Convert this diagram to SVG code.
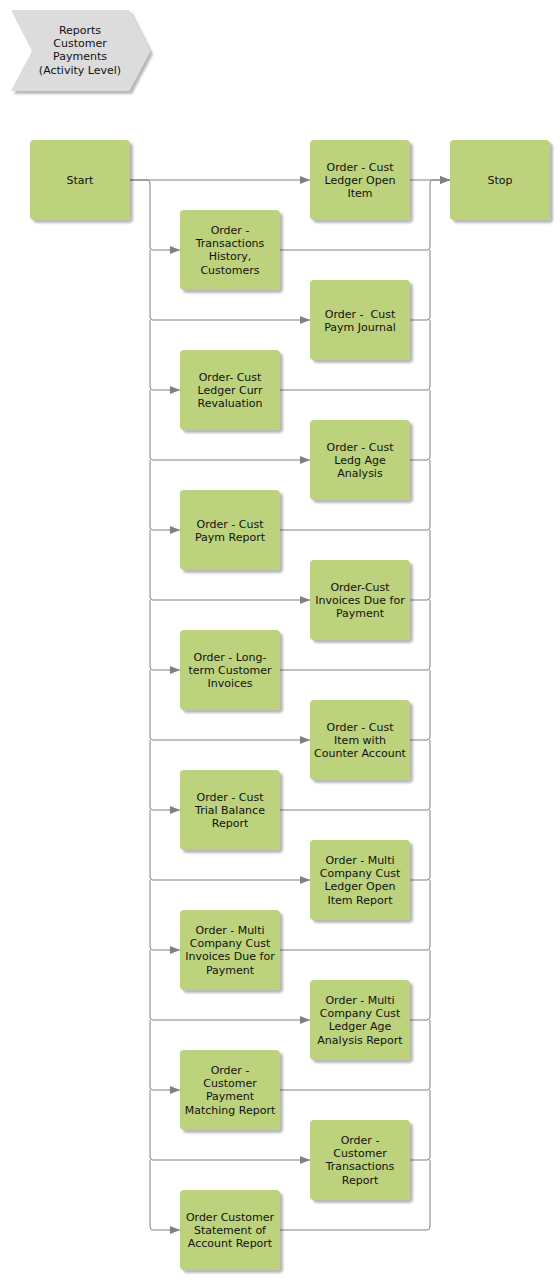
<svg xmlns="http://www.w3.org/2000/svg" width="560" height="1280" viewBox="0 0 560 1280">
<defs>
<filter id="sh" x="-10%" y="-10%" width="130%" height="130%">
<feDropShadow dx="3" dy="3" stdDeviation="1.2" flood-color="#000" flood-opacity="0.28"/>
</filter>
<marker id="ar" markerWidth="10" markerHeight="8" refX="10" refY="4" orient="auto" markerUnits="userSpaceOnUse">
<path d="M0,0 L10,4 L0,8 Z" fill="#808080"/>
</marker>
<style>
.n rect{fill:#bdd27b;filter:url(#sh)}
text{font-family:"DejaVu Sans",Verdana,sans-serif;font-size:11px;fill:#111;text-anchor:middle}
.c path{fill:none;stroke:#808080;stroke-width:1}
.a{marker-end:url(#ar)}
</style>
</defs>
<g id="header">
<path d="M11,10 H129 L150,51 L129,91 H11 L32,51 Z" fill="#dcdcdc" filter="url(#sh)"/>
<text x="80" y="34">Reports</text>
<text x="80" y="47">Customer</text>
<text x="80" y="60">Payments</text>
<text x="80" y="74">(Activity Level)</text>
</g>
<g id="connectors" class="c">
<path class="a" d="M130,180 H310"/>
<path class="a" d="M130,180 H147 Q150,180 150,183 V247 Q150,250 153,250 H180"/>
<path class="a" d="M150,250 V317 Q150,320 153,320 H310"/>
<path class="a" d="M150,320 V387 Q150,390 153,390 H180"/>
<path class="a" d="M150,390 V457 Q150,460 153,460 H310"/>
<path class="a" d="M150,460 V527 Q150,530 153,530 H180"/>
<path class="a" d="M150,530 V597 Q150,600 153,600 H310"/>
<path class="a" d="M150,600 V667 Q150,670 153,670 H180"/>
<path class="a" d="M150,670 V737 Q150,740 153,740 H310"/>
<path class="a" d="M150,740 V807 Q150,810 153,810 H180"/>
<path class="a" d="M150,810 V877 Q150,880 153,880 H310"/>
<path class="a" d="M150,880 V947 Q150,950 153,950 H180"/>
<path class="a" d="M150,950 V1017 Q150,1020 153,1020 H310"/>
<path class="a" d="M150,1020 V1087 Q150,1090 153,1090 H180"/>
<path class="a" d="M150,1090 V1157 Q150,1160 153,1160 H310"/>
<path class="a" d="M150,1160 V1227 Q150,1230 153,1230 H180"/>
<path class="a" d="M410,180 H450"/>
<path class="a" d="M280,250 H427 Q430,250 430,247 V183 Q430,180 433,180 H450"/>
<path d="M410,320 H427 Q430,320 430,317 V250"/>
<path d="M280,390 H427 Q430,390 430,387 V320"/>
<path d="M410,460 H427 Q430,460 430,457 V390"/>
<path d="M280,530 H427 Q430,530 430,527 V460"/>
<path d="M410,600 H427 Q430,600 430,597 V530"/>
<path d="M280,670 H427 Q430,670 430,667 V600"/>
<path d="M410,740 H427 Q430,740 430,737 V670"/>
<path d="M280,810 H427 Q430,810 430,807 V740"/>
<path d="M410,880 H427 Q430,880 430,877 V810"/>
<path d="M280,950 H427 Q430,950 430,947 V880"/>
<path d="M410,1020 H427 Q430,1020 430,1017 V950"/>
<path d="M280,1090 H427 Q430,1090 430,1087 V1020"/>
<path d="M410,1160 H427 Q430,1160 430,1157 V1090"/>
<path d="M280,1230 H427 Q430,1230 430,1227 V1160"/>
</g>
<g id="start" class="n"><rect x="30" y="140" width="100" height="80" rx="4"/><text x="80" y="184">Start</text></g>
<g id="stop" class="n"><rect x="450" y="140" width="100" height="80" rx="4"/><text x="500" y="184">Stop</text></g>
<g id="n0" class="n"><rect x="310" y="140" width="100" height="80" rx="4"/><text x="360" y="171">Order - Cust</text><text x="360" y="184">Ledger Open</text><text x="360" y="197">Item</text></g>
<g id="n1" class="n"><rect x="180" y="210" width="100" height="80" rx="4"/><text x="230" y="234">Order -</text><text x="230" y="247">Transactions</text><text x="230" y="260">History,</text><text x="230" y="274">Customers</text></g>
<g id="n2" class="n"><rect x="310" y="280" width="100" height="80" rx="4"/><text x="360" y="318" xml:space="preserve">Order -  Cust</text><text x="360" y="331">Paym Journal</text></g>
<g id="n3" class="n"><rect x="180" y="350" width="100" height="80" rx="4"/><text x="230" y="381">Order- Cust</text><text x="230" y="394">Ledger Curr</text><text x="230" y="407">Revaluation</text></g>
<g id="n4" class="n"><rect x="310" y="420" width="100" height="80" rx="4"/><text x="360" y="451">Order - Cust</text><text x="360" y="464">Ledg Age</text><text x="360" y="477">Analysis</text></g>
<g id="n5" class="n"><rect x="180" y="490" width="100" height="80" rx="4"/><text x="230" y="528">Order - Cust</text><text x="230" y="541">Paym Report</text></g>
<g id="n6" class="n"><rect x="310" y="560" width="100" height="80" rx="4"/><text x="360" y="591">Order-Cust</text><text x="360" y="604">Invoices Due for</text><text x="360" y="617">Payment</text></g>
<g id="n7" class="n"><rect x="180" y="630" width="100" height="80" rx="4"/><text x="230" y="661">Order - Long-</text><text x="230" y="674">term Customer</text><text x="230" y="687">Invoices</text></g>
<g id="n8" class="n"><rect x="310" y="700" width="100" height="80" rx="4"/><text x="360" y="731">Order - Cust</text><text x="360" y="744">Item with</text><text x="360" y="757">Counter Account</text></g>
<g id="n9" class="n"><rect x="180" y="770" width="100" height="80" rx="4"/><text x="230" y="801">Order - Cust</text><text x="230" y="814">Trial Balance</text><text x="230" y="827">Report</text></g>
<g id="n10" class="n"><rect x="310" y="840" width="100" height="80" rx="4"/><text x="360" y="864">Order - Multi</text><text x="360" y="877">Company Cust</text><text x="360" y="890">Ledger Open</text><text x="360" y="904">Item Report</text></g>
<g id="n11" class="n"><rect x="180" y="910" width="100" height="80" rx="4"/><text x="230" y="934">Order - Multi</text><text x="230" y="947">Company Cust</text><text x="230" y="960">Invoices Due for</text><text x="230" y="974">Payment</text></g>
<g id="n12" class="n"><rect x="310" y="980" width="100" height="80" rx="4"/><text x="360" y="1004">Order - Multi</text><text x="360" y="1017">Company Cust</text><text x="360" y="1030">Ledger Age</text><text x="360" y="1044">Analysis Report</text></g>
<g id="n13" class="n"><rect x="180" y="1050" width="100" height="80" rx="4"/><text x="230" y="1074">Order -</text><text x="230" y="1087">Customer</text><text x="230" y="1100">Payment</text><text x="230" y="1114">Matching Report</text></g>
<g id="n14" class="n"><rect x="310" y="1120" width="100" height="80" rx="4"/><text x="360" y="1144">Order -</text><text x="360" y="1157">Customer</text><text x="360" y="1170">Transactions</text><text x="360" y="1184">Report</text></g>
<g id="n15" class="n"><rect x="180" y="1190" width="100" height="80" rx="4"/><text x="230" y="1221">Order Customer</text><text x="230" y="1234">Statement of</text><text x="230" y="1247">Account Report</text></g>
</svg>
